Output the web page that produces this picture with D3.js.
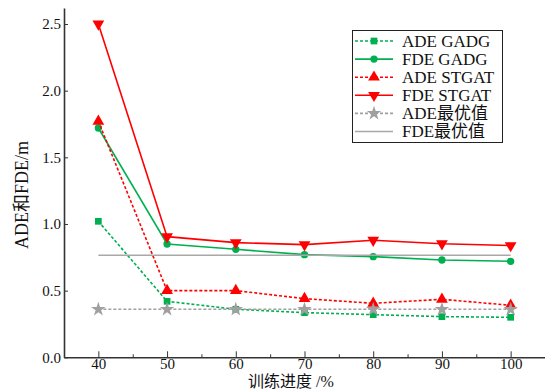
<!DOCTYPE html>
<html>
<head>
<meta charset="utf-8">
<script src="https://cdn.jsdelivr.net/npm/d3@7"></script>
<style>
  body { margin: 0; background: #fff; }
  svg { display: block; }
  text { font-family: "Liberation Serif", "Times New Roman", "Noto Sans CJK SC", serif; }
</style>
</head>
<body>
<div id="chart"></div>
<script>
// training progress (%)
const progress = [40, 50, 60, 70, 80, 90, 100];
const adeGadg = [1.02, 0.42, 0.36, 0.335, 0.32, 0.305, 0.30];
const fdeGadg = [1.72, 0.85, 0.81, 0.77, 0.755, 0.73, 0.72];
const adeStgat = [1.77, 0.50, 0.50, 0.44, 0.405, 0.435, 0.39];
const fdeStgat = [2.50, 0.905, 0.86, 0.845, 0.878, 0.852, 0.838];
const adeBest = [0.36, 0.36, 0.36, 0.36, 0.36, 0.36, 0.36];
const fdeBest = [0.765, 0.765, 0.765, 0.765, 0.765, 0.765, 0.765];
const xTicks = [40, 50, 60, 70, 80, 90, 100];
const yTicks = [0, 0.5, 1.0, 1.5, 2.0, 2.5];

const series = [
  {name: 'ADE GADG', values: adeGadg, color: '#00b050', dash: '3,2', symbol: d3.symbolSquare, size: 45},
  {name: 'FDE GADG', values: fdeGadg, color: '#00b050', dash: null, symbol: d3.symbolCircle, size: 42},
  {name: 'ADE STGAT', values: adeStgat, color: '#ff0000', dash: '3,2', symbol: d3.symbolTriangle, size: 60, rot: 0},
  {name: 'FDE STGAT', values: fdeStgat, color: '#ff0000', dash: null, symbol: d3.symbolTriangle, size: 60, rot: 180},
  {name: 'ADE最优值', values: adeBest, color: '#a0a0a0', dash: '3,2', symbol: d3.symbolStar, size: 65},
  {name: 'FDE最优值', values: fdeBest, color: '#a8a8a8', dash: null, symbol: null}
];

const width = 545, height = 389;
const margin = {top: 8, right: 0, bottom: 32, left: 64};

const svg = d3.select('#chart').append('svg')
  .attr('width', width).attr('height', height);

const x = d3.scaleLinear().domain([35, 105]).range([margin.left, width - margin.right]);
const y = d3.scaleLinear().domain([0, 2.62]).range([357.3, margin.top]);

// axes
const xAxis = svg.append('g')
  .attr('transform', 'translate(0,' + y(0) + ')')
  .call(d3.axisBottom(x).tickValues(xTicks).tickSize(-6).tickPadding(3).tickSizeOuter(0));
svg.append('g')
  .attr('transform', 'translate(0,' + y(0) + ')')
  .call(d3.axisBottom(x).tickValues(d3.range(45, 106, 10)).tickSize(-3).tickFormat('').tickSizeOuter(0))
  .select('.domain').remove();
const yAxis = svg.append('g')
  .attr('transform', 'translate(' + x(35) + ',0)')
  .call(d3.axisLeft(y).tickValues(yTicks).tickSize(-4).tickPadding(3)
    .tickFormat(d3.format('.1f')).tickSizeOuter(0));

svg.selectAll('.domain').attr('stroke', '#333').attr('stroke-width', 1.6);
svg.selectAll('.tick line').attr('stroke', '#333').attr('stroke-width', 1);
svg.selectAll('.tick text').attr('fill', '#111').attr('font-size', 15)
  .style('font-family', '"Liberation Serif", "Times New Roman", serif');
xAxis.selectAll('.tick text').attr('dy', '0.6em');

// axis titles
svg.append('text')
  .attr('x', 291).attr('y', 387)
  .attr('text-anchor', 'middle').attr('font-size', 16).attr('fill', '#111')
  .text('训练进度 /%');
svg.append('text')
  .attr('transform', 'translate(28,195) rotate(-90)')
  .attr('text-anchor', 'middle').attr('font-size', 18).attr('fill', '#111')
  .text('ADE和FDE/m');

// lines
const line = d3.line().x((d, i) => x(progress[i])).y(d => y(d));

series.forEach(s => {
  svg.append('path')
    .datum(s.values)
    .attr('fill', 'none')
    .attr('stroke', s.color)
    .attr('stroke-width', 1.6)
    .attr('stroke-dasharray', s.dash)
    .attr('d', line);
  if (s.symbol) {
    svg.selectAll(null)
      .data(s.values)
      .enter().append('path')
      .attr('d', d3.symbol().type(s.symbol).size(s.size))
      .attr('fill', s.color)
      .attr('transform', (d, i) => 'translate(' + x(progress[i]) + ',' + y(d) + ')' +
        (s.rot ? ' rotate(' + s.rot + ')' : ''));
  }
});

// legend
const legend = svg.append('g');
legend.append('rect')
  .attr('x', 352.5).attr('y', 30.5).attr('width', 150).attr('height', 112)
  .attr('fill', '#fff').attr('stroke', '#222').attr('stroke-width', 1);

series.forEach((s, i) => {
  const ly = 41 + i * 18.1;
  legend.append('line')
    .attr('x1', 355).attr('x2', 393).attr('y1', ly).attr('y2', ly)
    .attr('stroke', s.color).attr('stroke-width', 1.6)
    .attr('stroke-dasharray', s.dash);
  if (s.symbol) {
    legend.append('path')
      .attr('d', d3.symbol().type(s.symbol).size(s.size))
      .attr('fill', s.color)
      .attr('transform', 'translate(374,' + ly + ')' + (s.rot ? ' rotate(' + s.rot + ')' : ''));
  }
  legend.append('text')
    .attr('x', 402).attr('y', ly).attr('dy', '0.35em')
    .attr('font-size', 17).attr('fill', '#111')
    .text(s.name);
});
</script>
</body>
</html>
